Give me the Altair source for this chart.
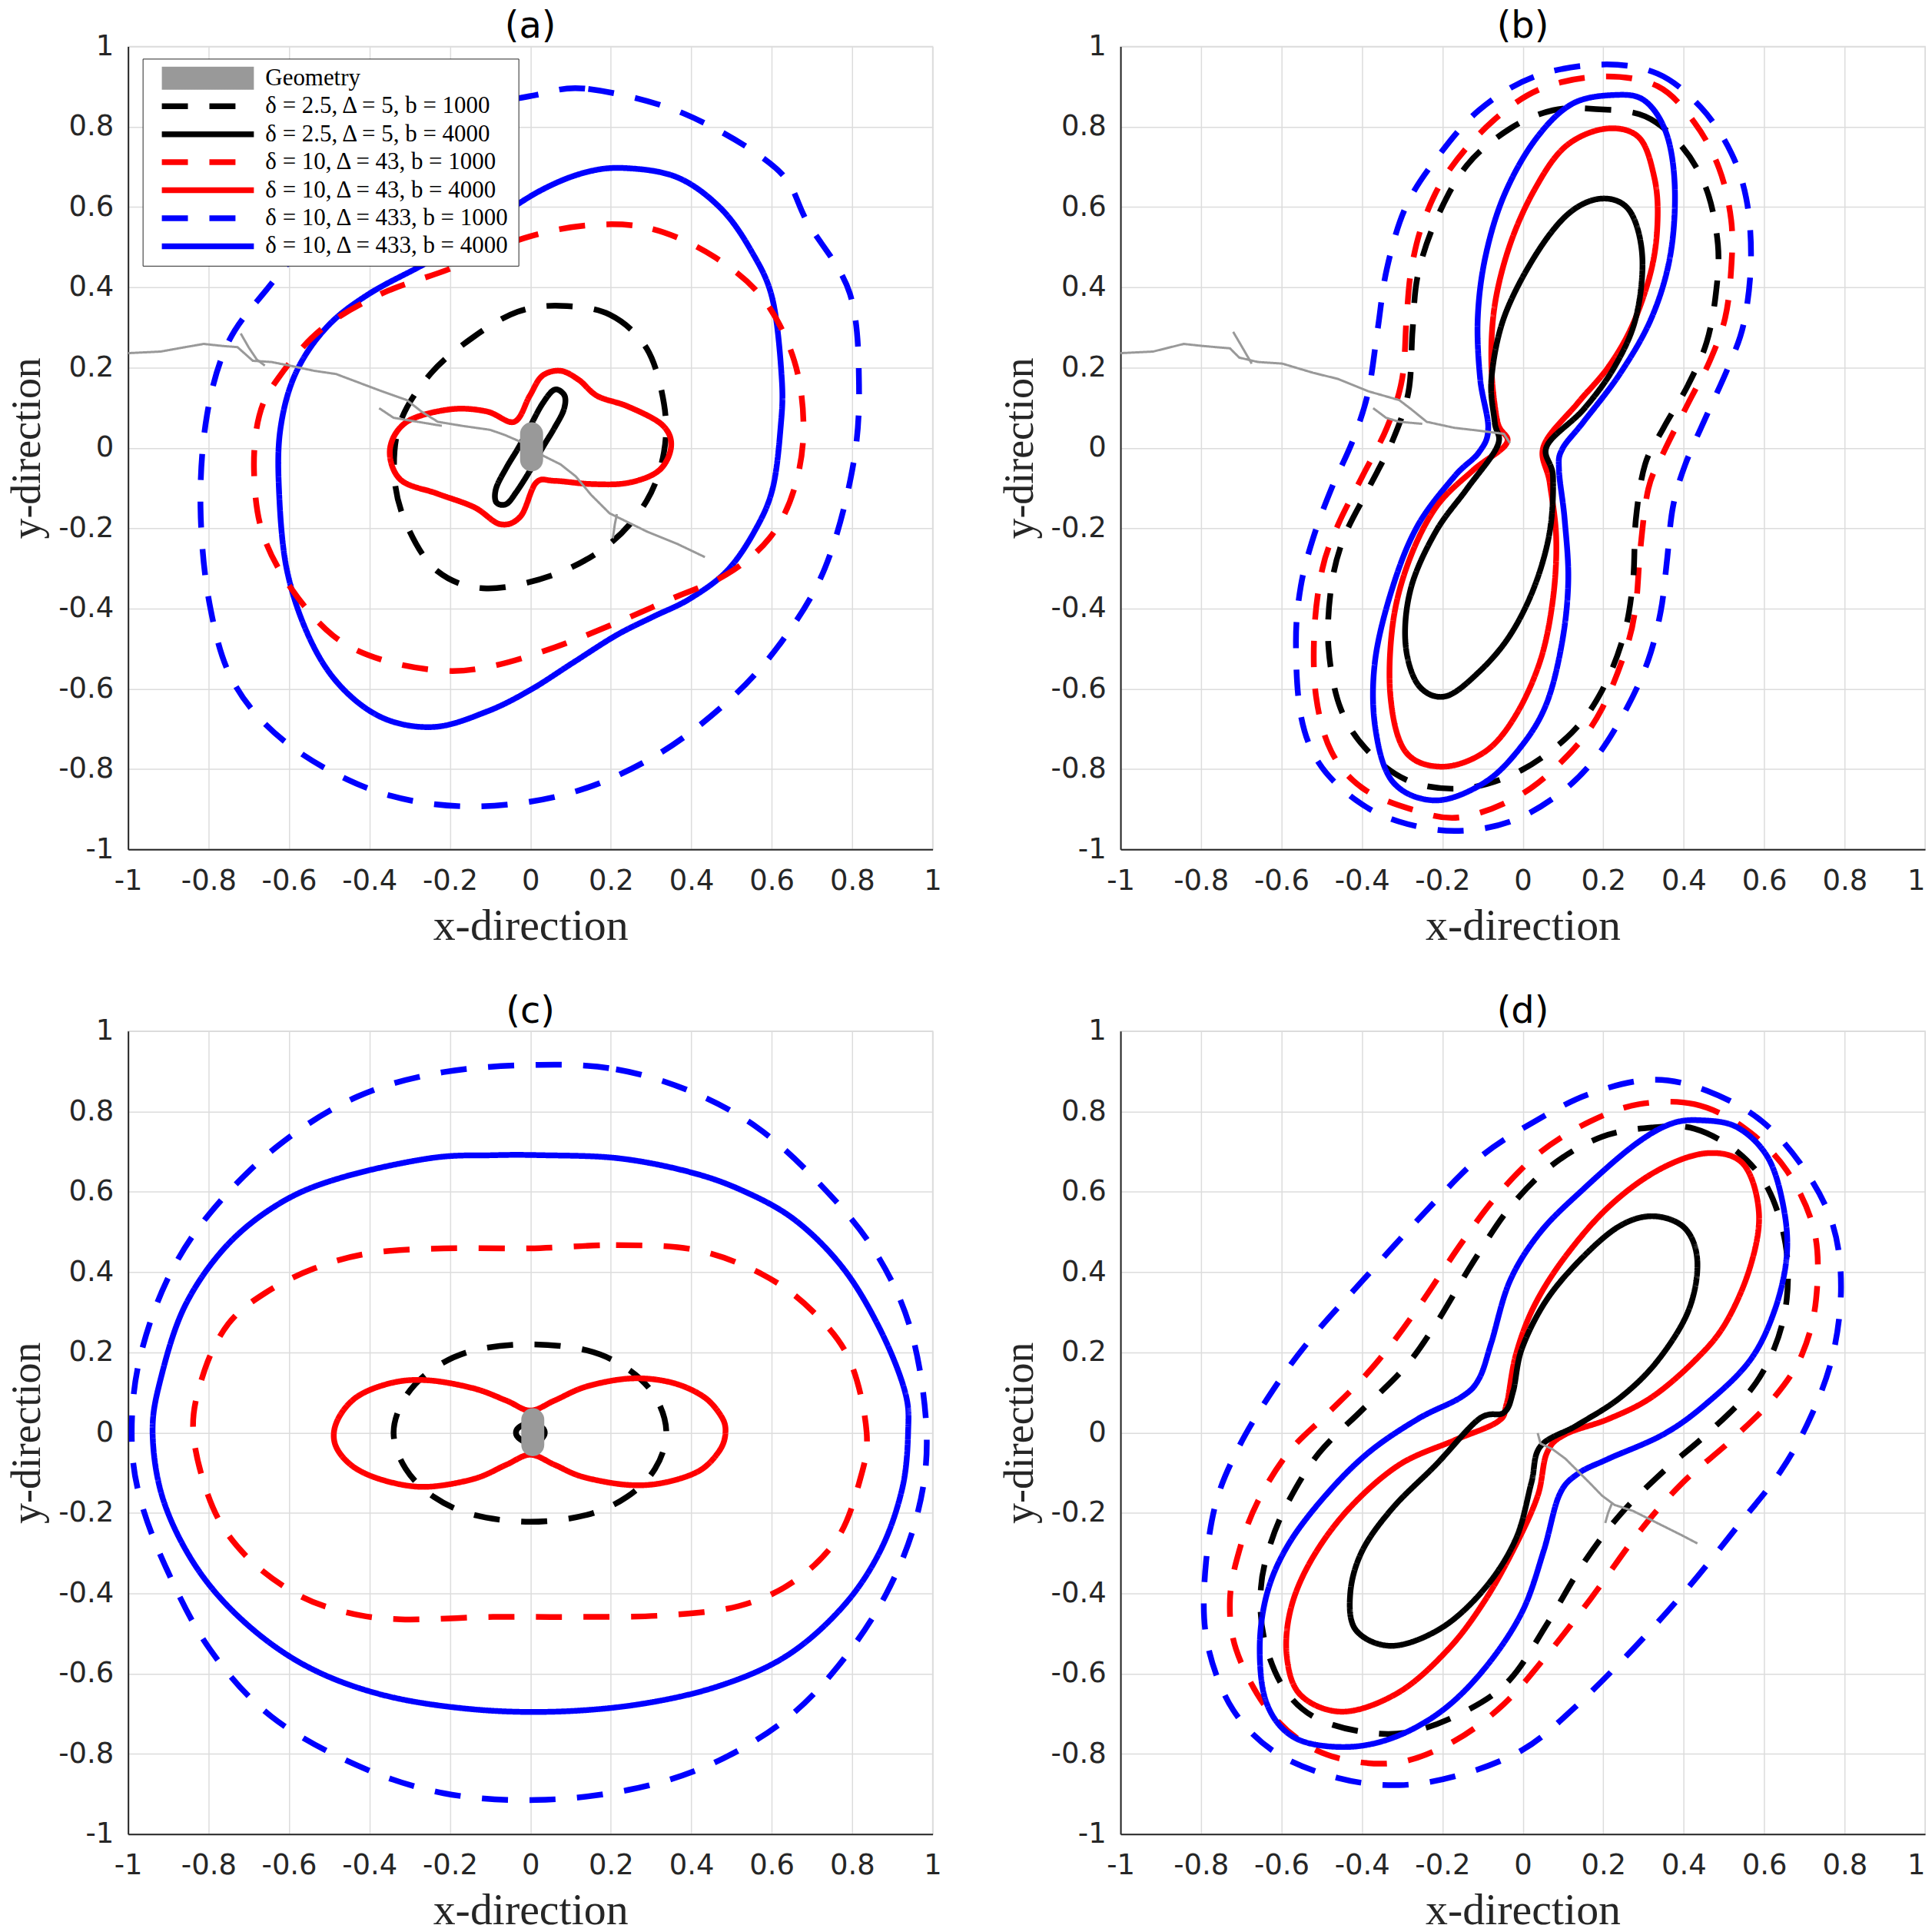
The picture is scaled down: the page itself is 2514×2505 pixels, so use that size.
import altair as alt
import pandas as pd

# ---------------- labels / ticks ----------------
SERIES = [
    "Geometry",
    "δ = 2.5, Δ = 5, b = 1000",
    "δ = 2.5, Δ = 5, b = 4000",
    "δ = 10, Δ = 43, b = 1000",
    "δ = 10, Δ = 43, b = 4000",
    "δ = 10, Δ = 433, b = 1000",
    "δ = 10, Δ = 433, b = 4000",
]
TICKS = [-1, -0.8, -0.6, -0.4, -0.2, 0, 0.2, 0.4, 0.6, 0.8, 1]
PANEL_TITLES = ["(a)", "(b)", "(c)", "(d)"]

# ---------------- panel (a) ----------------
A_BLUE_DASH = [(0.014, 0.879), (0.144, 0.894), (0.381, 0.833), (0.61, 0.697), (0.69, 0.56), (0.794, 0.385),
               (0.817, 0.157), (0.80, -0.056), (0.732, -0.30), (0.625, -0.482), (0.488, -0.634), (0.304, -0.771),
               (0.09, -0.862), (-0.154, -0.893), (-0.384, -0.855), (-0.598, -0.741), (-0.735, -0.589),
               (-0.797, -0.391), (-0.82, -0.147), (-0.804, 0.081), (-0.751, 0.263), (-0.651, 0.40),
               (-0.521, 0.552), (-0.338, 0.719), (-0.124, 0.841)]
A_BLUE_SOLID = [(0.235, 0.697), (0.365, 0.674), (0.472, 0.598), (0.549, 0.491), (0.602, 0.370), (0.625, 0.172),
                (0.622, 0.05), (0.602, -0.102), (0.557, -0.208), (0.488, -0.307), (0.396, -0.376), (0.304, -0.421),
                (0.213, -0.467), (0.106, -0.535), (-0.002, -0.604), (-0.109, -0.657), (-0.239, -0.695),
                (-0.368, -0.672), (-0.476, -0.589), (-0.552, -0.467), (-0.606, -0.30), (-0.625, -0.102),
                (-0.621, 0.05), (-0.583, 0.187), (-0.506, 0.301), (-0.399, 0.385), (-0.246, 0.468),
                (-0.093, 0.567), (0.029, 0.643), (0.136, 0.686)]
A_RED_DASH = [(0.151, 0.555), (0.304, 0.545), (0.457, 0.476), (0.58, 0.37), (0.656, 0.217), (0.679, 0.05),
              (0.656, -0.102), (0.595, -0.224), (0.488, -0.315), (0.35, -0.376), (0.213, -0.436), (0.06, -0.497),
              (-0.093, -0.543), (-0.216, -0.555), (-0.368, -0.528), (-0.491, -0.467), (-0.598, -0.345),
              (-0.667, -0.208), (-0.687, -0.056), (-0.674, 0.08), (-0.628, 0.172), (-0.521, 0.294),
              (-0.368, 0.385), (-0.2, 0.446), (-0.017, 0.522)]
A_RED_SOLID = [(0.350, 0.005), (0.327, 0.058), (0.243, 0.103), (0.167, 0.129), (0.121, 0.169), (0.075, 0.192),
               (0.029, 0.179), (-0.002, 0.129), (-0.040, 0.065), (-0.109, 0.091), (-0.2, 0.096), (-0.307, 0.065),
               (-0.349, -0.003), (-0.323, -0.079), (-0.231, -0.114), (-0.139, -0.148), (-0.075, -0.19),
               (-0.024, -0.17), (0.014, -0.087), (0.06, -0.082), (0.151, -0.09), (0.243, -0.087), (0.32, -0.056)]
A_BLACK_DASH = [(0.075, 0.354), (0.197, 0.332), (0.289, 0.248), (0.332, 0.111), (0.332, -0.011), (0.289, -0.132),
                (0.197, -0.239), (0.06, -0.315), (-0.109, -0.35), (-0.231, -0.307), (-0.307, -0.193),
                (-0.338, -0.071), (-0.323, 0.065), (-0.246, 0.187), (-0.139, 0.278), (-0.032, 0.339)]
A_BLACK_SOLID = [(0.06, 0.145), (0.085, 0.13), (0.083, 0.095), (0.06, 0.05), (0.03, 0.0), (0.0, -0.055),
                 (-0.035, -0.11), (-0.06, -0.14), (-0.085, -0.135), (-0.085, -0.10), (-0.06, -0.05),
                 (-0.03, 0.0), (0.0, 0.055), (0.03, 0.11)]
A_CRACK_MAIN = [(-1, 0.236), (-0.919, 0.24), (-0.858, 0.251), (-0.812, 0.259), (-0.766, 0.254), (-0.728, 0.251),
                (-0.69, 0.217), (-0.644, 0.214), (-0.598, 0.205), (-0.537, 0.192), (-0.483, 0.184), (-0.43, 0.164),
                (-0.369, 0.141), (-0.307, 0.119), (-0.27, 0.09), (-0.23, 0.065), (-0.17, 0.055), (-0.10, 0.045),
                (-0.063, 0.032), (-0.017, 0.012), (0.029, -0.018), (0.075, -0.041), (0.113, -0.071),
                (0.151, -0.117), (0.197, -0.163), (0.228, -0.178), (0.289, -0.208), (0.365, -0.239), (0.434, -0.272)]
A_CRACK_B1 = [(-0.72, 0.285), (-0.70, 0.25), (-0.68, 0.22), (-0.66, 0.205)]
A_CRACK_B2 = [(-0.376, 0.099), (-0.34, 0.075), (-0.28, 0.065), (-0.22, 0.055)]
A_CRACK_B3 = [(0.215, -0.165), (0.21, -0.19), (0.205, -0.225)]
A_BLOB = [(0.003, -0.03), (0.003, 0.035)]

# ---------------- panel (b) ----------------
B_BLUE_DASH = [(0.197, 0.955), (0.335, 0.932), (0.442, 0.849), (0.518, 0.735), (0.557, 0.613), (0.567, 0.461),
               (0.549, 0.309), (0.511, 0.202), (0.457, 0.081), (0.404, -0.041), (0.373, -0.148), (0.358, -0.284),
               (0.343, -0.406), (0.312, -0.528), (0.258, -0.649), (0.182, -0.771), (0.09, -0.862),
               (-0.032, -0.931), (-0.17, -0.954), (-0.307, -0.931), (-0.414, -0.878), (-0.506, -0.786),
               (-0.552, -0.665), (-0.564, -0.482), (-0.552, -0.345), (-0.521, -0.224), (-0.476, -0.102),
               (-0.422, 0.02), (-0.384, 0.141), (-0.361, 0.294), (-0.338, 0.446), (-0.292, 0.598),
               (-0.216, 0.719), (-0.109, 0.841), (0.029, 0.925)]
B_RED_DASH = [(0.197, 0.925), (0.335, 0.901), (0.427, 0.81), (0.488, 0.696), (0.518, 0.567), (0.518, 0.446),
              (0.503, 0.324), (0.465, 0.217), (0.411, 0.111), (0.35, -0.011), (0.312, -0.102), (0.292, -0.254),
              (0.281, -0.391), (0.258, -0.497), (0.197, -0.649), (0.121, -0.756), (-0.002, -0.862),
              (-0.154, -0.92), (-0.277, -0.9), (-0.399, -0.847), (-0.476, -0.756), (-0.514, -0.619),
              (-0.518, -0.452), (-0.498, -0.3), (-0.46, -0.193), (-0.399, -0.071), (-0.338, 0.05),
              (-0.3, 0.172), (-0.289, 0.324), (-0.277, 0.446), (-0.246, 0.567), (-0.185, 0.689),
              (-0.078, 0.811), (0.044, 0.894)]
B_BLACK_DASH = [(0.182, 0.844), (0.304, 0.826), (0.396, 0.75), (0.457, 0.643), (0.485, 0.506), (0.48, 0.385),
                (0.457, 0.263), (0.411, 0.157), (0.35, 0.05), (0.304, -0.041), (0.281, -0.178), (0.274, -0.33),
                (0.251, -0.467), (0.197, -0.604), (0.121, -0.71), (-0.002, -0.802), (-0.139, -0.847),
                (-0.277, -0.832), (-0.384, -0.756), (-0.453, -0.649), (-0.483, -0.497), (-0.476, -0.345),
                (-0.445, -0.224), (-0.384, -0.102), (-0.323, 0.02), (-0.284, 0.141), (-0.274, 0.294),
                (-0.261, 0.43), (-0.216, 0.567), (-0.139, 0.704), (-0.032, 0.795), (0.075, 0.841)]
B_BLUE_SOLID = [(0.228, 0.879), (0.304, 0.864), (0.358, 0.78), (0.378, 0.643), (0.366, 0.476), (0.32, 0.324),
                (0.243, 0.187), (0.151, 0.065), (0.098, -0.003), (0.09, -0.056), (0.104, -0.178), (0.113, -0.33),
                (0.098, -0.482), (0.06, -0.634), (-0.002, -0.741), (-0.093, -0.832), (-0.216, -0.878),
                (-0.323, -0.832), (-0.367, -0.695), (-0.367, -0.528), (-0.323, -0.345), (-0.261, -0.193),
                (-0.17, -0.071), (-0.109, -0.011), (-0.086, 0.05), (-0.106, 0.172), (-0.112, 0.324),
                (-0.093, 0.476), (-0.047, 0.628), (0.029, 0.765), (0.121, 0.856)]
B_RED_SOLID = [(0.205, 0.795), (0.289, 0.773), (0.327, 0.673), (0.335, 0.567), (0.32, 0.446), (0.274, 0.309),
               (0.213, 0.202), (0.136, 0.111), (0.052, 0.005), (0.067, -0.087), (0.083, -0.224), (0.075, -0.376),
               (0.044, -0.528), (-0.017, -0.665), (-0.093, -0.756), (-0.2, -0.794), (-0.292, -0.756),
               (-0.329, -0.619), (-0.323, -0.437), (-0.284, -0.284), (-0.216, -0.148), (-0.124, -0.056),
               (-0.04, 0.012), (-0.063, 0.065), (-0.078, 0.202), (-0.07, 0.354), (-0.032, 0.506),
               (0.029, 0.643), (0.105, 0.75)]
B_BLACK_SOLID = [(0.197, 0.621), (0.266, 0.59), (0.297, 0.476), (0.281, 0.324), (0.228, 0.202), (0.151, 0.096),
                 (0.06, 0.005), (0.075, -0.071), (0.067, -0.208), (0.029, -0.345), (-0.032, -0.467),
                 (-0.109, -0.558), (-0.193, -0.619), (-0.261, -0.589), (-0.292, -0.482), (-0.277, -0.345),
                 (-0.216, -0.208), (-0.139, -0.102), (-0.063, 0.005), (-0.07, 0.065), (-0.078, 0.172),
                 (-0.047, 0.324), (0.029, 0.476), (0.113, 0.583)]
B_CRACK_MAIN = [(-1, 0.236), (-0.919, 0.24), (-0.843, 0.259), (-0.797, 0.254), (-0.728, 0.248), (-0.705, 0.225),
                (-0.659, 0.214), (-0.598, 0.21), (-0.521, 0.187), (-0.46, 0.172), (-0.384, 0.141),
                (-0.307, 0.119), (-0.277, 0.096), (-0.239, 0.065), (-0.17, 0.05), (-0.109, 0.043),
                (-0.047, 0.035), (-0.032, 0.012)]
B_CRACK_B1 = [(-0.72, 0.289), (-0.70, 0.255), (-0.674, 0.21)]
B_CRACK_B2 = [(-0.372, 0.099), (-0.34, 0.075), (-0.307, 0.065), (-0.25, 0.06)]

# ---------------- panel (c) ----------------
C_BLUE_DASH = [(0.021, 0.916), (0.213, 0.905), (0.396, 0.851), (0.564, 0.76), (0.717, 0.622), (0.855, 0.454),
               (0.946, 0.255), (0.985, 0.0), (0.962, -0.203), (0.885, -0.401), (0.763, -0.584), (0.625, -0.722),
               (0.442, -0.829), (0.243, -0.89), (0.014, -0.915), (-0.216, -0.898), (-0.43, -0.829),
               (-0.644, -0.707), (-0.797, -0.539), (-0.904, -0.34), (-0.972, -0.157), (-0.991, 0.0),
               (-0.972, 0.18), (-0.904, 0.378), (-0.797, 0.546), (-0.628, 0.714), (-0.43, 0.837), (-0.216, 0.898)]
C_BLUE_SOLID = [(0.029, 0.691), (0.213, 0.684), (0.381, 0.653), (0.518, 0.607), (0.656, 0.531), (0.778, 0.409),
                (0.87, 0.256), (0.931, 0.103), (0.939, 0.0), (0.924, -0.141), (0.87, -0.294), (0.778, -0.432),
                (0.64, -0.554), (0.472, -0.63), (0.274, -0.676), (0.06, -0.695), (-0.154, -0.688),
                (-0.368, -0.653), (-0.552, -0.584), (-0.705, -0.477), (-0.827, -0.34), (-0.911, -0.172),
                (-0.939, -0.004), (-0.919, 0.134), (-0.858, 0.317), (-0.751, 0.47), (-0.613, 0.577),
                (-0.46, 0.638), (-0.246, 0.684), (-0.093, 0.691)]
C_RED_DASH = [(-0.002, 0.459), (0.213, 0.467), (0.411, 0.455), (0.579, 0.393), (0.702, 0.302), (0.794, 0.18),
              (0.836, 0.0), (0.817, -0.126), (0.763, -0.264), (0.656, -0.37), (0.518, -0.432), (0.335, -0.455),
              (0.121, -0.459), (-0.093, -0.459), (-0.323, -0.465), (-0.46, -0.447), (-0.583, -0.401),
              (-0.705, -0.309), (-0.789, -0.187), (-0.838, 0.0), (-0.812, 0.149), (-0.751, 0.271),
              (-0.659, 0.348), (-0.537, 0.409), (-0.399, 0.447), (-0.216, 0.459)]
C_BLACK_DASH = [(0.0, 0.22), (0.14, 0.205), (0.24, 0.16), (0.31, 0.09), (0.338, 0.0), (0.31, -0.09),
                (0.24, -0.16), (0.14, -0.205), (0.0, -0.222), (-0.14, -0.205), (-0.24, -0.16), (-0.31, -0.09),
                (-0.34, 0.0), (-0.31, 0.09), (-0.24, 0.16), (-0.14, 0.205)]
C_RED_SOLID = [(0.0, 0.055), (0.06, 0.08), (0.14, 0.115), (0.25, 0.135), (0.35, 0.125), (0.43, 0.09),
               (0.475, 0.04), (0.485, 0.0), (0.47, -0.045), (0.42, -0.095), (0.33, -0.125), (0.24, -0.13),
               (0.13, -0.11), (0.06, -0.08), (0.0, -0.055), (-0.06, -0.08), (-0.14, -0.115), (-0.26, -0.135),
               (-0.36, -0.12), (-0.44, -0.085), (-0.485, -0.03), (-0.48, 0.03), (-0.43, 0.09), (-0.34, 0.125),
               (-0.25, 0.13), (-0.14, 0.11), (-0.06, 0.08)]
C_BLACK_SOLID = [(0.0, 0.025), (0.03, 0.012), (0.035, -0.005), (0.02, -0.022), (0.0, -0.025), (-0.02, -0.02),
                 (-0.035, -0.005), (-0.03, 0.012)]
C_BLOB = [(0.006, -0.03), (0.006, 0.032)]

# ---------------- panel (d) ----------------
D_BLUE_DASH = [(0.32, 0.879), (0.457, 0.852), (0.595, 0.775), (0.702, 0.653), (0.771, 0.516), (0.791, 0.363),
               (0.771, 0.195), (0.717, 0.042), (0.641, -0.096), (0.534, -0.233), (0.411, -0.386), (0.274, -0.539),
               (0.121, -0.692), (-0.002, -0.791), (-0.154, -0.852), (-0.307, -0.878), (-0.46, -0.86),
               (-0.613, -0.798), (-0.72, -0.691), (-0.781, -0.539), (-0.792, -0.386), (-0.766, -0.187),
               (-0.705, -0.034), (-0.613, 0.118), (-0.521, 0.241), (-0.399, 0.378), (-0.246, 0.546),
               (-0.109, 0.684), (0.029, 0.775), (0.167, 0.844)]
D_RED_DASH = [(0.289, 0.818), (0.427, 0.818), (0.549, 0.76), (0.656, 0.653), (0.725, 0.5), (0.729, 0.332),
              (0.694, 0.195), (0.625, 0.088), (0.518, -0.019), (0.396, -0.126), (0.289, -0.248), (0.167, -0.416),
              (0.06, -0.554), (-0.047, -0.676), (-0.17, -0.768), (-0.307, -0.821), (-0.445, -0.814),
              (-0.552, -0.768), (-0.644, -0.676), (-0.713, -0.539), (-0.728, -0.416), (-0.705, -0.294),
              (-0.659, -0.172), (-0.583, -0.05), (-0.491, 0.042), (-0.399, 0.134), (-0.323, 0.225),
              (-0.246, 0.332), (-0.154, 0.47), (-0.063, 0.592), (0.044, 0.699), (0.167, 0.775)]
D_BLACK_DASH = [(0.32, 0.76), (0.427, 0.757), (0.534, 0.699), (0.61, 0.607), (0.653, 0.47), (0.656, 0.332),
                (0.625, 0.21), (0.564, 0.103), (0.457, -0.004), (0.35, -0.096), (0.243, -0.203), (0.151, -0.325),
                (0.06, -0.477), (-0.032, -0.615), (-0.139, -0.692), (-0.277, -0.745), (-0.399, -0.745),
                (-0.521, -0.707), (-0.598, -0.63), (-0.644, -0.508), (-0.651, -0.386), (-0.628, -0.279),
                (-0.583, -0.172), (-0.506, -0.05), (-0.399, 0.057), (-0.292, 0.164), (-0.216, 0.271),
                (-0.124, 0.424), (-0.032, 0.561), (0.075, 0.668), (0.197, 0.737)]
D_BLUE_SOLID = [(0.442, 0.778), (0.534, 0.76), (0.61, 0.684), (0.648, 0.562), (0.656, 0.439), (0.625, 0.302),
                (0.564, 0.179), (0.457, 0.073), (0.35, -0.004), (0.213, -0.065), (0.136, -0.103), (0.09, -0.157),
                (0.052, -0.294), (-0.002, -0.447), (-0.093, -0.585), (-0.2, -0.692), (-0.323, -0.76),
                (-0.445, -0.783), (-0.567, -0.76), (-0.636, -0.676), (-0.654, -0.539), (-0.636, -0.401),
                (-0.583, -0.279), (-0.491, -0.157), (-0.384, -0.05), (-0.261, 0.034), (-0.154, 0.088),
                (-0.109, 0.134), (-0.078, 0.225), (-0.032, 0.378), (0.044, 0.5), (0.151, 0.607),
                (0.274, 0.714), (0.365, 0.768)]
D_RED_SOLID = [(0.457, 0.696), (0.549, 0.668), (0.587, 0.546), (0.564, 0.409), (0.503, 0.271), (0.427, 0.179),
               (0.32, 0.088), (0.213, 0.034), (0.106, -0.004), (0.06, -0.05), (0.037, -0.157), (-0.017, -0.279),
               (-0.093, -0.416), (-0.185, -0.539), (-0.307, -0.646), (-0.445, -0.695), (-0.552, -0.654),
               (-0.587, -0.554), (-0.575, -0.432), (-0.521, -0.309), (-0.43, -0.187), (-0.307, -0.08),
               (-0.17, -0.019), (-0.063, 0.027), (-0.04, 0.073), (-0.017, 0.195), (0.029, 0.317),
               (0.106, 0.439), (0.213, 0.562), (0.335, 0.653)]
D_BLACK_SOLID = [(0.327, 0.539), (0.404, 0.508), (0.434, 0.424), (0.411, 0.302), (0.335, 0.179), (0.243, 0.088),
                 (0.136, 0.019), (0.044, -0.034), (0.021, -0.126), (-0.017, -0.264), (-0.093, -0.386),
                 (-0.2, -0.485), (-0.323, -0.531), (-0.414, -0.493), (-0.429, -0.401), (-0.399, -0.294),
                 (-0.323, -0.187), (-0.216, -0.08), (-0.109, 0.034), (-0.047, 0.05), (-0.024, 0.103),
                 (-0.002, 0.21), (0.06, 0.332), (0.151, 0.439), (0.243, 0.516)]
D_CRACK_MAIN = [(0.037, -0.001), (0.044, -0.027), (0.075, -0.042), (0.106, -0.065), (0.136, -0.095),
                (0.167, -0.126), (0.197, -0.157), (0.228, -0.18), (0.274, -0.195), (0.304, -0.21),
                (0.35, -0.233), (0.396, -0.256), (0.434, -0.276)]
D_CRACK_B1 = [(0.222, -0.175), (0.212, -0.2), (0.205, -0.225)]

# ---------------- styles ----------------
COLORS = ["#999999", "#000000", "#000000", "#ff0000", "#ff0000", "#0000ff", "#0000ff"]
DASH = [34, 28]
DASHES = [[1, 0], DASH, [1, 0], DASH, [1, 0], DASH, [1, 0]]
WIDTHS = [30, 7.5, 7.5, 7.5, 7.5, 7.5, 7.5]
W, H = 1049, 1047
TEXT = "#262626"


def curve_frame(curves):
    rows = []
    for s, pts in curves:
        for i, (x, y) in enumerate(pts):
            rows.append({"x": x, "y": y, "series": s, "i": i})
    return pd.DataFrame(rows)


def crack_frame(cracks):
    rows = []
    for k, pts in enumerate(cracks):
        for i, (x, y) in enumerate(pts):
            rows.append({"x": x, "y": y, "series": SERIES[0], "crack": k, "i": i})
    return pd.DataFrame(rows)


def panel(idx, curves, cracks, blob, show_legend, flush_right):
    if show_legend:
        leg = alt.Legend(
            title=None, orient="none", legendX=19, legendY=16,
            symbolType="stroke", symbolSize=14400,
            labelFont="Liberation Serif", labelFontSize=31, labelColor="black",
            labelOffset=0, padding=10, rowPadding=4.5, labelLimit=0, clipHeight=31,
            strokeColor=TEXT, fillColor="white",
        )
    else:
        leg = None
    xaxis_kw = dict(values=TICKS, title="x-direction")
    if flush_right:
        xaxis_kw["labelAlign"] = {"condition": {"test": "datum.value >= 1", "value": "right"},
                                  "value": "center"}
    xenc = alt.X("x:Q", scale=alt.Scale(domain=[-1, 1], nice=False, zero=False),
                 axis=alt.Axis(**xaxis_kw))
    yenc = alt.Y("y:Q", scale=alt.Scale(domain=[-1, 1], nice=False, zero=False),
                 axis=alt.Axis(values=TICKS, title="y-direction"))
    color = alt.Color("series:N", scale=alt.Scale(domain=SERIES, range=COLORS), legend=leg)
    dash = alt.StrokeDash("series:N", scale=alt.Scale(domain=SERIES, range=DASHES), legend=leg)
    width = alt.StrokeWidth("series:N", scale=alt.Scale(type="ordinal", domain=SERIES, range=WIDTHS),
                            legend=leg)

    layers = [
        alt.Chart(curve_frame(curves)).mark_line(
            interpolate="cardinal-closed", clip=True
        ).encode(x=xenc, y=yenc, color=color, strokeDash=dash, strokeWidth=width, order="i:Q")
    ]
    if cracks:
        layers.append(
            alt.Chart(crack_frame(cracks)).mark_line(strokeWidth=3, clip=True).encode(
                x=xenc, y=yenc, color=color, strokeDash=dash, detail="crack:N", order="i:Q")
        )
    if blob:
        layers.append(
            alt.Chart(crack_frame([blob])).mark_line(strokeCap="round").encode(
                x=xenc, y=yenc, color=color, strokeDash=dash, strokeWidth=width,
                detail="crack:N", order="i:Q")
        )
    return alt.layer(*layers).properties(
        width=W, height=H,
        title=alt.TitleParams(PANEL_TITLES[idx], font="DejaVu Sans", fontSize=48,
                              fontWeight="normal", color="black", offset=-18),
    )


pa = panel(0, [(SERIES[5], A_BLUE_DASH), (SERIES[6], A_BLUE_SOLID), (SERIES[3], A_RED_DASH),
               (SERIES[1], A_BLACK_DASH), (SERIES[4], A_RED_SOLID), (SERIES[2], A_BLACK_SOLID)],
           [A_CRACK_MAIN, A_CRACK_B1, A_CRACK_B2, A_CRACK_B3], A_BLOB, True, False)
pb = panel(1, [(SERIES[5], B_BLUE_DASH), (SERIES[3], B_RED_DASH), (SERIES[1], B_BLACK_DASH),
               (SERIES[6], B_BLUE_SOLID), (SERIES[4], B_RED_SOLID), (SERIES[2], B_BLACK_SOLID)],
           [B_CRACK_MAIN, B_CRACK_B1, B_CRACK_B2], None, False, True)
pc = panel(2, [(SERIES[5], C_BLUE_DASH), (SERIES[6], C_BLUE_SOLID), (SERIES[3], C_RED_DASH),
               (SERIES[1], C_BLACK_DASH), (SERIES[4], C_RED_SOLID), (SERIES[2], C_BLACK_SOLID)],
           [], C_BLOB, False, False)
pd_ = panel(3, [(SERIES[5], D_BLUE_DASH), (SERIES[3], D_RED_DASH), (SERIES[1], D_BLACK_DASH),
                (SERIES[6], D_BLUE_SOLID), (SERIES[4], D_RED_SOLID), (SERIES[2], D_BLACK_SOLID)],
            [D_CRACK_MAIN, D_CRACK_B1], None, False, True)

RES = dict(color="independent", strokeDash="independent", strokeWidth="independent")
row1 = alt.hconcat(pa, pb, spacing=73).resolve_scale(**RES)
row2 = alt.hconcat(pc, pd_, spacing=73).resolve_scale(**RES)
chart = alt.vconcat(row1, row2, spacing=57).resolve_scale(**RES).properties(
    padding={"left": 0, "top": 0, "right": 0, "bottom": 0}
).configure_axis(
    grid=True, gridColor="#dcdcdc", gridWidth=1.5, ticks=False,
    domainColor=TEXT, domainWidth=2,
    labelFont="DejaVu Sans", labelFontSize=37, labelColor=TEXT,
    labelExpr="'' + round(datum.value * 10) / 10", labelOverlap=False, labelFlush=False,
    titleFont="Liberation Serif", titleFontWeight="normal", titleColor=TEXT,
).configure_axisX(labelPadding=23, titlePadding=12, titleFontSize=58).configure_axisY(
    labelPadding=19, titlePadding=13, titleFontSize=54
).configure_view(stroke="#dcdcdc", strokeWidth=1.5)

chart.save("out.html", embed_options={"renderer": "svg", "actions": False})
